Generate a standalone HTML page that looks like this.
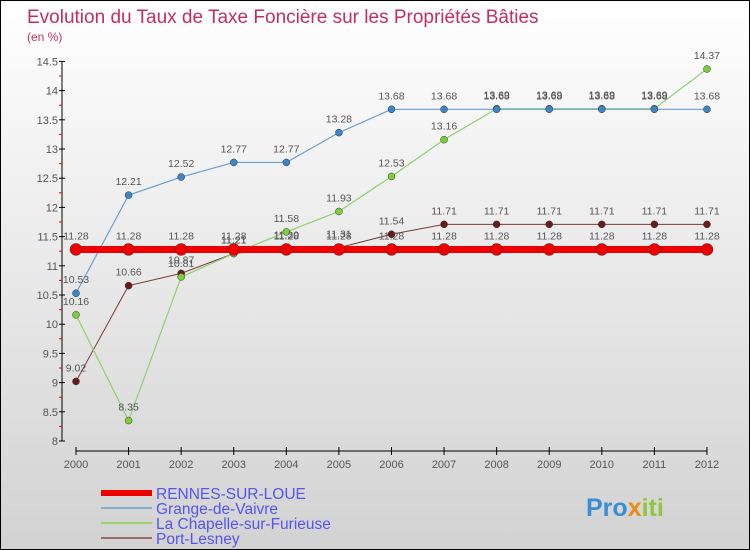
<!DOCTYPE html>
<html><head><meta charset="utf-8"><style>
body{margin:0}
#c{width:750px;height:550px;position:relative;box-sizing:border-box;border:1px solid #000;background:linear-gradient(#fff,#d2d2d2);font-family:"Liberation Sans",sans-serif;overflow:hidden}
svg{position:absolute;left:0;top:0}
text{font-family:"Liberation Sans",sans-serif}
</style></head><body>
<div id="c">
<svg id="s" width="750" height="550">
<text x="26" y="22" font-size="19" fill="#c0305f">Evolution du Taux de Taxe Foncière sur les Propriétés Bâties</text>
<text x="26" y="40" font-size="12" fill="#c0305f">(en %)</text>
<g id="g"></g>
<text x="585" y="515" font-size="25" font-weight="bold" fill="#3a8ed8">Pro<tspan fill="#f08a1c">x</tspan><tspan fill="#8dc63f">iti</tspan></text>
</svg>
</div>
<script>
const years=[2000,2001,2002,2003,2004,2005,2006,2007,2008,2009,2010,2011,2012];
const rennes=[11.28,11.28,11.28,11.28,11.28,11.28,11.28,11.28,11.28,11.28,11.28,11.28,11.28];
const grange=[10.53,12.21,12.52,12.77,12.77,13.28,13.68,13.68,13.68,13.68,13.68,13.68,13.68];
const chapelle=[10.16,8.35,10.81,11.21,11.58,11.93,12.53,13.16,13.69,13.69,13.69,13.69,14.37];
const port=[9.02,10.66,10.87,11.21,11.3,11.31,11.54,11.71,11.71,11.71,11.71,11.71,11.71];
const yTicks=[8,8.5,9,9.5,10,10.5,11,11.5,12,12.5,13,13.5,14,14.5];
const ns="http://www.w3.org/2000/svg",g=document.getElementById('g');
const X=i=>75+i*52.58, Y=v=>440-(v-8)*58.4;
function el(t,a,p){const e=document.createElementNS(ns,t);for(const k in a)e.setAttribute(k,a[k]);(p||g).appendChild(e);return e;}
let e=el('line',{x1:61,y1:60,x2:61,y2:440,stroke:'#000'});


yTicks.forEach(v=>{
 let t=el('line',{x1:58,x2:64,y1:Y(v),y2:Y(v),stroke:'#000'});
 
 
 if(v!==14.5){let m=el('line',{x1:58,x2:61,y1:Y(v+0.25),y2:Y(v+0.25),stroke:'#e00'});}
 let l=el('text',{x:57,y:Y(v)+4,'font-size':11,'text-anchor':'end',fill:'#555'});l.textContent=v;
 
 
});
e=el('line',{x1:75,y1:450,x2:706,y2:450,stroke:'#000'});


years.forEach((y,i)=>{
 let t=el('line',{x1:X(i),x2:X(i),y1:446,y2:454,stroke:'#000'});
 
 
 let l=el('text',{x:X(i),y:467,'font-size':11,'text-anchor':'middle',fill:'#555'});l.textContent=y;
 
 
});
function series(d,col,dot,w,r,name){
 let p=el('polyline',{points:d.map((v,i)=>X(i)+','+Y(v)).join(' '),fill:'none',stroke:col,'stroke-width':w});
 
 
 d.forEach((v,i)=>{
  let c=el('circle',{cx:X(i),cy:Y(v),r:r,fill:dot,stroke:'#333','stroke-width':0.5});
  
  
  let l=el('text',{x:X(i),y:Y(v)-10,'font-size':10.5,'text-anchor':'middle',fill:'#555'});
  l.textContent=(v===11.3||v===11.31)?v.toFixed(2):String(v);
  
  
 });
}
series(port,'#7a3a3a','#6a1a1a',1,3.5,'port-lesney');
series(chapelle,'#90d070','#7ccc3c',1.2,3.5,'la-chapelle');
series(grange,'#6aa0d0','#3a86c8',1.2,3.5,'grange-de-vaivre');
series(rennes,'#ee0000','#ee0000',7,6,'rennes-sur-loue');
const leg=[['RENNES-SUR-LOUE','#ee0000',6],['Grange-de-Vaivre','#80acd0',2],['La Chapelle-sur-Furieuse','#9cd070',2],['Port-Lesney','#9a6a6a',2]];
leg.forEach((L,i)=>{
 let y=492+i*15;
 let s=el('line',{x1:100,x2:151,y1:y,y2:y,stroke:L[1],'stroke-width':L[2]});
 
 
 let t=el('text',{x:155,y:y+6,'font-size':15.5,fill:'#5555ee'});t.textContent=L[0];
 
 
});
</script>
</body></html>
